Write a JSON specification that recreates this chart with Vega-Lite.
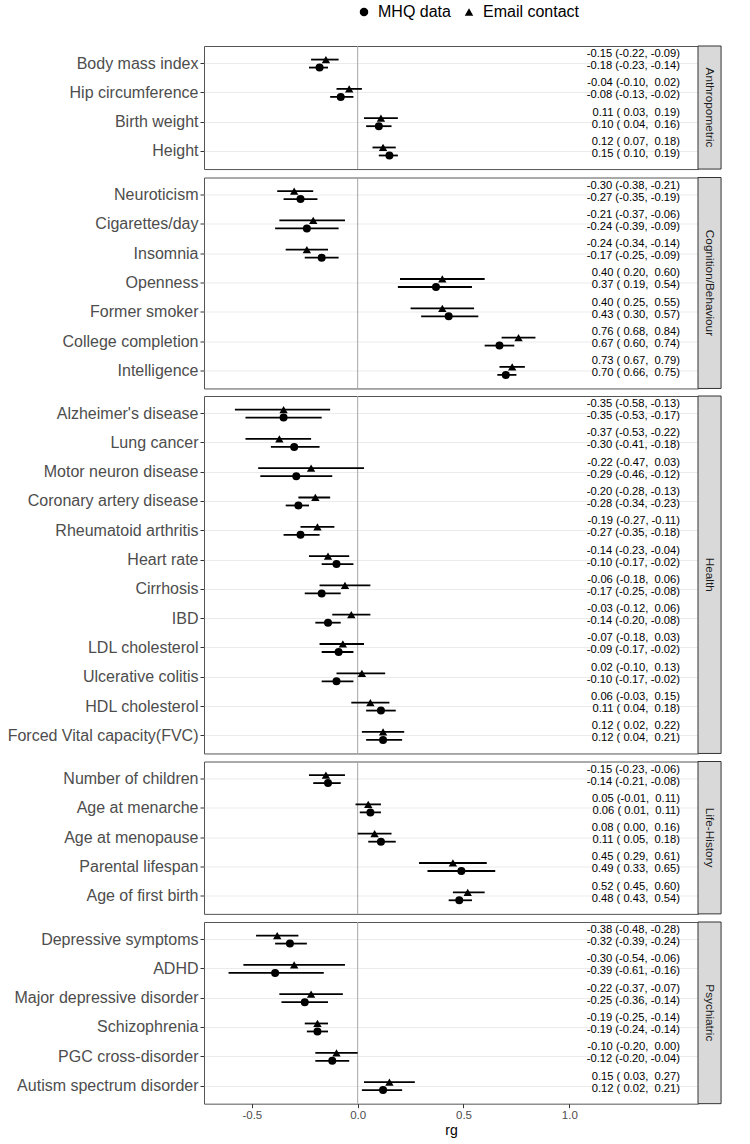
{
"$schema": "https://vega.github.io/schema/vega-lite/v6.json",
"background": "white",
"padding": {"left": 6, "top": 4, "right": 5, "bottom": 5},
"data": {"values": [
{"category":"Anthropometric","trait":"Body mass index","email_rg":-0.15,"email_lo":-0.22,"email_hi":-0.09,"email_label":"-0.15 (-0.22, -0.09)","mhq_rg":-0.18,"mhq_lo":-0.23,"mhq_hi":-0.14,"mhq_label":"-0.18 (-0.23, -0.14)"},
{"category":"Anthropometric","trait":"Hip circumference","email_rg":-0.04,"email_lo":-0.10,"email_hi":0.02,"email_label":"-0.04 (-0.10, \u00a00.02)","mhq_rg":-0.08,"mhq_lo":-0.13,"mhq_hi":-0.02,"mhq_label":"-0.08 (-0.13, -0.02)"},
{"category":"Anthropometric","trait":"Birth weight","email_rg":0.11,"email_lo":0.03,"email_hi":0.19,"email_label":"0.11 (\u00a00.03, \u00a00.19)","mhq_rg":0.10,"mhq_lo":0.04,"mhq_hi":0.16,"mhq_label":"0.10 (\u00a00.04, \u00a00.16)"},
{"category":"Anthropometric","trait":"Height","email_rg":0.12,"email_lo":0.07,"email_hi":0.18,"email_label":"0.12 (\u00a00.07, \u00a00.18)","mhq_rg":0.15,"mhq_lo":0.10,"mhq_hi":0.19,"mhq_label":"0.15 (\u00a00.10, \u00a00.19)"},
{"category":"Cognition/Behaviour","trait":"Neuroticism","email_rg":-0.30,"email_lo":-0.38,"email_hi":-0.21,"email_label":"-0.30 (-0.38, -0.21)","mhq_rg":-0.27,"mhq_lo":-0.35,"mhq_hi":-0.19,"mhq_label":"-0.27 (-0.35, -0.19)"},
{"category":"Cognition/Behaviour","trait":"Cigarettes/day","email_rg":-0.21,"email_lo":-0.37,"email_hi":-0.06,"email_label":"-0.21 (-0.37, -0.06)","mhq_rg":-0.24,"mhq_lo":-0.39,"mhq_hi":-0.09,"mhq_label":"-0.24 (-0.39, -0.09)"},
{"category":"Cognition/Behaviour","trait":"Insomnia","email_rg":-0.24,"email_lo":-0.34,"email_hi":-0.14,"email_label":"-0.24 (-0.34, -0.14)","mhq_rg":-0.17,"mhq_lo":-0.25,"mhq_hi":-0.09,"mhq_label":"-0.17 (-0.25, -0.09)"},
{"category":"Cognition/Behaviour","trait":"Openness","email_rg":0.40,"email_lo":0.20,"email_hi":0.60,"email_label":"0.40 (\u00a00.20, \u00a00.60)","mhq_rg":0.37,"mhq_lo":0.19,"mhq_hi":0.54,"mhq_label":"0.37 (\u00a00.19, \u00a00.54)"},
{"category":"Cognition/Behaviour","trait":"Former smoker","email_rg":0.40,"email_lo":0.25,"email_hi":0.55,"email_label":"0.40 (\u00a00.25, \u00a00.55)","mhq_rg":0.43,"mhq_lo":0.30,"mhq_hi":0.57,"mhq_label":"0.43 (\u00a00.30, \u00a00.57)"},
{"category":"Cognition/Behaviour","trait":"College completion","email_rg":0.76,"email_lo":0.68,"email_hi":0.84,"email_label":"0.76 (\u00a00.68, \u00a00.84)","mhq_rg":0.67,"mhq_lo":0.60,"mhq_hi":0.74,"mhq_label":"0.67 (\u00a00.60, \u00a00.74)"},
{"category":"Cognition/Behaviour","trait":"Intelligence","email_rg":0.73,"email_lo":0.67,"email_hi":0.79,"email_label":"0.73 (\u00a00.67, \u00a00.79)","mhq_rg":0.70,"mhq_lo":0.66,"mhq_hi":0.75,"mhq_label":"0.70 (\u00a00.66, \u00a00.75)"},
{"category":"Health","trait":"Alzheimer's disease","email_rg":-0.35,"email_lo":-0.58,"email_hi":-0.13,"email_label":"-0.35 (-0.58, -0.13)","mhq_rg":-0.35,"mhq_lo":-0.53,"mhq_hi":-0.17,"mhq_label":"-0.35 (-0.53, -0.17)"},
{"category":"Health","trait":"Lung cancer","email_rg":-0.37,"email_lo":-0.53,"email_hi":-0.22,"email_label":"-0.37 (-0.53, -0.22)","mhq_rg":-0.30,"mhq_lo":-0.41,"mhq_hi":-0.18,"mhq_label":"-0.30 (-0.41, -0.18)"},
{"category":"Health","trait":"Motor neuron disease","email_rg":-0.22,"email_lo":-0.47,"email_hi":0.03,"email_label":"-0.22 (-0.47, \u00a00.03)","mhq_rg":-0.29,"mhq_lo":-0.46,"mhq_hi":-0.12,"mhq_label":"-0.29 (-0.46, -0.12)"},
{"category":"Health","trait":"Coronary artery disease","email_rg":-0.20,"email_lo":-0.28,"email_hi":-0.13,"email_label":"-0.20 (-0.28, -0.13)","mhq_rg":-0.28,"mhq_lo":-0.34,"mhq_hi":-0.23,"mhq_label":"-0.28 (-0.34, -0.23)"},
{"category":"Health","trait":"Rheumatoid arthritis","email_rg":-0.19,"email_lo":-0.27,"email_hi":-0.11,"email_label":"-0.19 (-0.27, -0.11)","mhq_rg":-0.27,"mhq_lo":-0.35,"mhq_hi":-0.18,"mhq_label":"-0.27 (-0.35, -0.18)"},
{"category":"Health","trait":"Heart rate","email_rg":-0.14,"email_lo":-0.23,"email_hi":-0.04,"email_label":"-0.14 (-0.23, -0.04)","mhq_rg":-0.10,"mhq_lo":-0.17,"mhq_hi":-0.02,"mhq_label":"-0.10 (-0.17, -0.02)"},
{"category":"Health","trait":"Cirrhosis","email_rg":-0.06,"email_lo":-0.18,"email_hi":0.06,"email_label":"-0.06 (-0.18, \u00a00.06)","mhq_rg":-0.17,"mhq_lo":-0.25,"mhq_hi":-0.08,"mhq_label":"-0.17 (-0.25, -0.08)"},
{"category":"Health","trait":"IBD","email_rg":-0.03,"email_lo":-0.12,"email_hi":0.06,"email_label":"-0.03 (-0.12, \u00a00.06)","mhq_rg":-0.14,"mhq_lo":-0.20,"mhq_hi":-0.08,"mhq_label":"-0.14 (-0.20, -0.08)"},
{"category":"Health","trait":"LDL cholesterol","email_rg":-0.07,"email_lo":-0.18,"email_hi":0.03,"email_label":"-0.07 (-0.18, \u00a00.03)","mhq_rg":-0.09,"mhq_lo":-0.17,"mhq_hi":-0.02,"mhq_label":"-0.09 (-0.17, -0.02)"},
{"category":"Health","trait":"Ulcerative colitis","email_rg":0.02,"email_lo":-0.10,"email_hi":0.13,"email_label":"0.02 (-0.10, \u00a00.13)","mhq_rg":-0.10,"mhq_lo":-0.17,"mhq_hi":-0.02,"mhq_label":"-0.10 (-0.17, -0.02)"},
{"category":"Health","trait":"HDL cholesterol","email_rg":0.06,"email_lo":-0.03,"email_hi":0.15,"email_label":"0.06 (-0.03, \u00a00.15)","mhq_rg":0.11,"mhq_lo":0.04,"mhq_hi":0.18,"mhq_label":"0.11 (\u00a00.04, \u00a00.18)"},
{"category":"Health","trait":"Forced Vital capacity(FVC)","email_rg":0.12,"email_lo":0.02,"email_hi":0.22,"email_label":"0.12 (\u00a00.02, \u00a00.22)","mhq_rg":0.12,"mhq_lo":0.04,"mhq_hi":0.21,"mhq_label":"0.12 (\u00a00.04, \u00a00.21)"},
{"category":"Life-History","trait":"Number of children","email_rg":-0.15,"email_lo":-0.23,"email_hi":-0.06,"email_label":"-0.15 (-0.23, -0.06)","mhq_rg":-0.14,"mhq_lo":-0.21,"mhq_hi":-0.08,"mhq_label":"-0.14 (-0.21, -0.08)"},
{"category":"Life-History","trait":"Age at menarche","email_rg":0.05,"email_lo":-0.01,"email_hi":0.11,"email_label":"0.05 (-0.01, \u00a00.11)","mhq_rg":0.06,"mhq_lo":0.01,"mhq_hi":0.11,"mhq_label":"0.06 (\u00a00.01, \u00a00.11)"},
{"category":"Life-History","trait":"Age at menopause","email_rg":0.08,"email_lo":0.00,"email_hi":0.16,"email_label":"0.08 (\u00a00.00, \u00a00.16)","mhq_rg":0.11,"mhq_lo":0.05,"mhq_hi":0.18,"mhq_label":"0.11 (\u00a00.05, \u00a00.18)"},
{"category":"Life-History","trait":"Parental lifespan","email_rg":0.45,"email_lo":0.29,"email_hi":0.61,"email_label":"0.45 (\u00a00.29, \u00a00.61)","mhq_rg":0.49,"mhq_lo":0.33,"mhq_hi":0.65,"mhq_label":"0.49 (\u00a00.33, \u00a00.65)"},
{"category":"Life-History","trait":"Age of first birth","email_rg":0.52,"email_lo":0.45,"email_hi":0.60,"email_label":"0.52 (\u00a00.45, \u00a00.60)","mhq_rg":0.48,"mhq_lo":0.43,"mhq_hi":0.54,"mhq_label":"0.48 (\u00a00.43, \u00a00.54)"},
{"category":"Psychiatric","trait":"Depressive symptoms","email_rg":-0.38,"email_lo":-0.48,"email_hi":-0.28,"email_label":"-0.38 (-0.48, -0.28)","mhq_rg":-0.32,"mhq_lo":-0.39,"mhq_hi":-0.24,"mhq_label":"-0.32 (-0.39, -0.24)"},
{"category":"Psychiatric","trait":"ADHD","email_rg":-0.30,"email_lo":-0.54,"email_hi":-0.06,"email_label":"-0.30 (-0.54, -0.06)","mhq_rg":-0.39,"mhq_lo":-0.61,"mhq_hi":-0.16,"mhq_label":"-0.39 (-0.61, -0.16)"},
{"category":"Psychiatric","trait":"Major depressive disorder","email_rg":-0.22,"email_lo":-0.37,"email_hi":-0.07,"email_label":"-0.22 (-0.37, -0.07)","mhq_rg":-0.25,"mhq_lo":-0.36,"mhq_hi":-0.14,"mhq_label":"-0.25 (-0.36, -0.14)"},
{"category":"Psychiatric","trait":"Schizophrenia","email_rg":-0.19,"email_lo":-0.25,"email_hi":-0.14,"email_label":"-0.19 (-0.25, -0.14)","mhq_rg":-0.19,"mhq_lo":-0.24,"mhq_hi":-0.14,"mhq_label":"-0.19 (-0.24, -0.14)"},
{"category":"Psychiatric","trait":"PGC cross-disorder","email_rg":-0.10,"email_lo":-0.20,"email_hi":0.00,"email_label":"-0.10 (-0.20, \u00a00.00)","mhq_rg":-0.12,"mhq_lo":-0.20,"mhq_hi":-0.04,"mhq_label":"-0.12 (-0.20, -0.04)"},
{"category":"Psychiatric","trait":"Autism spectrum disorder","email_rg":0.15,"email_lo":0.03,"email_hi":0.27,"email_label":"0.15 (\u00a00.03, \u00a00.27)","mhq_rg":0.12,"mhq_lo":0.02,"mhq_hi":0.21,"mhq_label":"0.12 (\u00a00.02, \u00a00.21)"}
]},
"spacing": 5.5,
"resolve": {"scale": {"x": "independent", "y": "independent", "shape": "shared"}, "legend": {"shape": "shared"}},
"vconcat": [
{"width": 494, "height": 123.06, "transform": [{"filter": {"field": "category", "equal": "Anthropometric"}}],
 "layer": [
  {"transform": [{"aggregate": [{"op": "count", "as": "n"}], "groupby": ["category"]}], "mark": {"type": "rule", "color": "#A6A6A6", "strokeWidth": 1}, "encoding": {"x": {"datum": 0, "type": "quantitative", "axis": null, "scale": {"domain": [-0.726, 1.608], "nice": false, "zero": false}}}},
  {"transform": [{"aggregate": [{"op": "count", "as": "n"}], "groupby": ["category"]}], "mark": {"type": "rect", "fill": "#D9D9D9", "stroke": "#333333", "strokeWidth": 1}, "encoding": {"x": {"datum": 1.608, "type": "quantitative", "axis": null}, "x2": {"datum": 1.717}}},
  {"transform": [{"aggregate": [{"op": "count", "as": "n"}], "groupby": ["category"]}], "mark": {"type": "text", "angle": 90, "align": "center", "baseline": "middle", "fontSize": 11.8, "color": "#1A1A1A"}, "encoding": {"x": {"datum": 1.6625, "type": "quantitative", "axis": null}, "text": {"field": "category"}}},
  {"mark": {"type": "rule", "color": "black", "strokeWidth": 1.8, "yOffset": -4}, "encoding": {"y": {"field": "trait", "type": "nominal", "sort": null, "title": null, "scale": {"paddingInner": 0, "paddingOuter": 0.1}}, "x": {"field": "email_lo", "type": "quantitative", "axis": null}, "x2": {"field": "email_hi"}}},
  {"mark": {"type": "rule", "color": "black", "strokeWidth": 1.8, "yOffset": 4}, "encoding": {"y": {"field": "trait", "type": "nominal", "sort": null, "title": null}, "x": {"field": "mhq_lo", "type": "quantitative", "axis": null}, "x2": {"field": "mhq_hi"}}},
  {"mark": {"type": "point", "filled": true, "color": "black", "opacity": 1, "size": 70, "yOffset": -4}, "encoding": {"y": {"field": "trait", "type": "nominal", "sort": null, "title": null}, "x": {"field": "email_rg", "type": "quantitative", "axis": null}, "shape": {"datum": "Email contact", "type": "nominal", "scale": {"domain": ["MHQ data", "Email contact"], "range": ["circle", "triangle-up"]}, "legend": {"orient": "none", "legendX": 152, "legendY": -42, "direction": "horizontal", "columns": 2, "title": null, "labelFontSize": 16, "labelColor": "black", "symbolFillColor": "black", "symbolStrokeColor": "black", "symbolSize": 72, "labelOffset": 6, "columnPadding": 10}}}},
  {"mark": {"type": "point", "filled": true, "color": "black", "opacity": 1, "size": 64, "yOffset": 4}, "encoding": {"y": {"field": "trait", "type": "nominal", "sort": null, "title": null}, "x": {"field": "mhq_rg", "type": "quantitative", "axis": null}, "shape": {"datum": "MHQ data", "type": "nominal"}}},
  {"mark": {"type": "text", "align": "right", "baseline": "middle", "fontSize": 11.2, "color": "black", "yOffset": -9.5}, "encoding": {"y": {"field": "trait", "type": "nominal", "sort": null, "title": null}, "x": {"datum": 1.523, "type": "quantitative", "axis": null}, "text": {"field": "email_label"}}},
  {"mark": {"type": "text", "align": "right", "baseline": "middle", "fontSize": 11.2, "color": "black", "yOffset": 2.5}, "encoding": {"y": {"field": "trait", "type": "nominal", "sort": null, "title": null}, "x": {"datum": 1.523, "type": "quantitative", "axis": null}, "text": {"field": "mhq_label"}}}
 ]},
{"width": 494, "height": 210.96, "transform": [{"filter": {"field": "category", "equal": "Cognition/Behaviour"}}],
 "layer": [
  {"transform": [{"aggregate": [{"op": "count", "as": "n"}], "groupby": ["category"]}], "mark": {"type": "rule", "color": "#A6A6A6", "strokeWidth": 1}, "encoding": {"x": {"datum": 0, "type": "quantitative", "axis": null, "scale": {"domain": [-0.726, 1.608], "nice": false, "zero": false}}}},
  {"transform": [{"aggregate": [{"op": "count", "as": "n"}], "groupby": ["category"]}], "mark": {"type": "rect", "fill": "#D9D9D9", "stroke": "#333333", "strokeWidth": 1}, "encoding": {"x": {"datum": 1.608, "type": "quantitative", "axis": null}, "x2": {"datum": 1.717}}},
  {"transform": [{"aggregate": [{"op": "count", "as": "n"}], "groupby": ["category"]}], "mark": {"type": "text", "angle": 90, "align": "center", "baseline": "middle", "fontSize": 11.8, "color": "#1A1A1A"}, "encoding": {"x": {"datum": 1.6625, "type": "quantitative", "axis": null}, "text": {"field": "category"}}},
  {"mark": {"type": "rule", "color": "black", "strokeWidth": 1.8, "yOffset": -4}, "encoding": {"y": {"field": "trait", "type": "nominal", "sort": null, "title": null, "scale": {"paddingInner": 0, "paddingOuter": 0.1}}, "x": {"field": "email_lo", "type": "quantitative", "axis": null}, "x2": {"field": "email_hi"}}},
  {"mark": {"type": "rule", "color": "black", "strokeWidth": 1.8, "yOffset": 4}, "encoding": {"y": {"field": "trait", "type": "nominal", "sort": null, "title": null}, "x": {"field": "mhq_lo", "type": "quantitative", "axis": null}, "x2": {"field": "mhq_hi"}}},
  {"mark": {"type": "point", "filled": true, "color": "black", "opacity": 1, "size": 70, "yOffset": -4}, "encoding": {"y": {"field": "trait", "type": "nominal", "sort": null, "title": null}, "x": {"field": "email_rg", "type": "quantitative", "axis": null}, "shape": {"datum": "Email contact", "type": "nominal"}}},
  {"mark": {"type": "point", "filled": true, "color": "black", "opacity": 1, "size": 64, "yOffset": 4}, "encoding": {"y": {"field": "trait", "type": "nominal", "sort": null, "title": null}, "x": {"field": "mhq_rg", "type": "quantitative", "axis": null}, "shape": {"datum": "MHQ data", "type": "nominal"}}},
  {"mark": {"type": "text", "align": "right", "baseline": "middle", "fontSize": 11.2, "color": "black", "yOffset": -9.5}, "encoding": {"y": {"field": "trait", "type": "nominal", "sort": null, "title": null}, "x": {"datum": 1.523, "type": "quantitative", "axis": null}, "text": {"field": "email_label"}}},
  {"mark": {"type": "text", "align": "right", "baseline": "middle", "fontSize": 11.2, "color": "black", "yOffset": 2.5}, "encoding": {"y": {"field": "trait", "type": "nominal", "sort": null, "title": null}, "x": {"datum": 1.523, "type": "quantitative", "axis": null}, "text": {"field": "mhq_label"}}}
 ]},
{"width": 494, "height": 357.46, "transform": [{"filter": {"field": "category", "equal": "Health"}}],
 "layer": [
  {"transform": [{"aggregate": [{"op": "count", "as": "n"}], "groupby": ["category"]}], "mark": {"type": "rule", "color": "#A6A6A6", "strokeWidth": 1}, "encoding": {"x": {"datum": 0, "type": "quantitative", "axis": null, "scale": {"domain": [-0.726, 1.608], "nice": false, "zero": false}}}},
  {"transform": [{"aggregate": [{"op": "count", "as": "n"}], "groupby": ["category"]}], "mark": {"type": "rect", "fill": "#D9D9D9", "stroke": "#333333", "strokeWidth": 1}, "encoding": {"x": {"datum": 1.608, "type": "quantitative", "axis": null}, "x2": {"datum": 1.717}}},
  {"transform": [{"aggregate": [{"op": "count", "as": "n"}], "groupby": ["category"]}], "mark": {"type": "text", "angle": 90, "align": "center", "baseline": "middle", "fontSize": 11.8, "color": "#1A1A1A"}, "encoding": {"x": {"datum": 1.6625, "type": "quantitative", "axis": null}, "text": {"field": "category"}}},
  {"mark": {"type": "rule", "color": "black", "strokeWidth": 1.8, "yOffset": -4}, "encoding": {"y": {"field": "trait", "type": "nominal", "sort": null, "title": null, "scale": {"paddingInner": 0, "paddingOuter": 0.1}}, "x": {"field": "email_lo", "type": "quantitative", "axis": null}, "x2": {"field": "email_hi"}}},
  {"mark": {"type": "rule", "color": "black", "strokeWidth": 1.8, "yOffset": 4}, "encoding": {"y": {"field": "trait", "type": "nominal", "sort": null, "title": null}, "x": {"field": "mhq_lo", "type": "quantitative", "axis": null}, "x2": {"field": "mhq_hi"}}},
  {"mark": {"type": "point", "filled": true, "color": "black", "opacity": 1, "size": 70, "yOffset": -4}, "encoding": {"y": {"field": "trait", "type": "nominal", "sort": null, "title": null}, "x": {"field": "email_rg", "type": "quantitative", "axis": null}, "shape": {"datum": "Email contact", "type": "nominal"}}},
  {"mark": {"type": "point", "filled": true, "color": "black", "opacity": 1, "size": 64, "yOffset": 4}, "encoding": {"y": {"field": "trait", "type": "nominal", "sort": null, "title": null}, "x": {"field": "mhq_rg", "type": "quantitative", "axis": null}, "shape": {"datum": "MHQ data", "type": "nominal"}}},
  {"mark": {"type": "text", "align": "right", "baseline": "middle", "fontSize": 11.2, "color": "black", "yOffset": -9.5}, "encoding": {"y": {"field": "trait", "type": "nominal", "sort": null, "title": null}, "x": {"datum": 1.523, "type": "quantitative", "axis": null}, "text": {"field": "email_label"}}},
  {"mark": {"type": "text", "align": "right", "baseline": "middle", "fontSize": 11.2, "color": "black", "yOffset": 2.5}, "encoding": {"y": {"field": "trait", "type": "nominal", "sort": null, "title": null}, "x": {"datum": 1.523, "type": "quantitative", "axis": null}, "text": {"field": "mhq_label"}}}
 ]},
{"width": 494, "height": 152.36, "transform": [{"filter": {"field": "category", "equal": "Life-History"}}],
 "layer": [
  {"transform": [{"aggregate": [{"op": "count", "as": "n"}], "groupby": ["category"]}], "mark": {"type": "rule", "color": "#A6A6A6", "strokeWidth": 1}, "encoding": {"x": {"datum": 0, "type": "quantitative", "axis": null, "scale": {"domain": [-0.726, 1.608], "nice": false, "zero": false}}}},
  {"transform": [{"aggregate": [{"op": "count", "as": "n"}], "groupby": ["category"]}], "mark": {"type": "rect", "fill": "#D9D9D9", "stroke": "#333333", "strokeWidth": 1}, "encoding": {"x": {"datum": 1.608, "type": "quantitative", "axis": null}, "x2": {"datum": 1.717}}},
  {"transform": [{"aggregate": [{"op": "count", "as": "n"}], "groupby": ["category"]}], "mark": {"type": "text", "angle": 90, "align": "center", "baseline": "middle", "fontSize": 11.8, "color": "#1A1A1A"}, "encoding": {"x": {"datum": 1.6625, "type": "quantitative", "axis": null}, "text": {"field": "category"}}},
  {"mark": {"type": "rule", "color": "black", "strokeWidth": 1.8, "yOffset": -4}, "encoding": {"y": {"field": "trait", "type": "nominal", "sort": null, "title": null, "scale": {"paddingInner": 0, "paddingOuter": 0.1}}, "x": {"field": "email_lo", "type": "quantitative", "axis": null}, "x2": {"field": "email_hi"}}},
  {"mark": {"type": "rule", "color": "black", "strokeWidth": 1.8, "yOffset": 4}, "encoding": {"y": {"field": "trait", "type": "nominal", "sort": null, "title": null}, "x": {"field": "mhq_lo", "type": "quantitative", "axis": null}, "x2": {"field": "mhq_hi"}}},
  {"mark": {"type": "point", "filled": true, "color": "black", "opacity": 1, "size": 70, "yOffset": -4}, "encoding": {"y": {"field": "trait", "type": "nominal", "sort": null, "title": null}, "x": {"field": "email_rg", "type": "quantitative", "axis": null}, "shape": {"datum": "Email contact", "type": "nominal"}}},
  {"mark": {"type": "point", "filled": true, "color": "black", "opacity": 1, "size": 64, "yOffset": 4}, "encoding": {"y": {"field": "trait", "type": "nominal", "sort": null, "title": null}, "x": {"field": "mhq_rg", "type": "quantitative", "axis": null}, "shape": {"datum": "MHQ data", "type": "nominal"}}},
  {"mark": {"type": "text", "align": "right", "baseline": "middle", "fontSize": 11.2, "color": "black", "yOffset": -9.5}, "encoding": {"y": {"field": "trait", "type": "nominal", "sort": null, "title": null}, "x": {"datum": 1.523, "type": "quantitative", "axis": null}, "text": {"field": "email_label"}}},
  {"mark": {"type": "text", "align": "right", "baseline": "middle", "fontSize": 11.2, "color": "black", "yOffset": 2.5}, "encoding": {"y": {"field": "trait", "type": "nominal", "sort": null, "title": null}, "x": {"datum": 1.523, "type": "quantitative", "axis": null}, "text": {"field": "mhq_label"}}}
 ]},
{"width": 494, "height": 181.66, "transform": [{"filter": {"field": "category", "equal": "Psychiatric"}}],
 "layer": [
  {"transform": [{"aggregate": [{"op": "count", "as": "n"}], "groupby": ["category"]}], "mark": {"type": "rule", "color": "#A6A6A6", "strokeWidth": 1}, "encoding": {"x": {"datum": 0, "type": "quantitative", "title": "rg", "scale": {"domain": [-0.726, 1.608], "nice": false, "zero": false}, "axis": {"values": [-0.5, 0, 0.5, 1], "labelExpr": "replace(format(datum.value, '.1f'), '\u2212', '-')"}}}},
  {"transform": [{"aggregate": [{"op": "count", "as": "n"}], "groupby": ["category"]}], "mark": {"type": "rect", "fill": "#D9D9D9", "stroke": "#333333", "strokeWidth": 1}, "encoding": {"x": {"datum": 1.608, "type": "quantitative", "title": "rg"}, "x2": {"datum": 1.717}}},
  {"transform": [{"aggregate": [{"op": "count", "as": "n"}], "groupby": ["category"]}], "mark": {"type": "text", "angle": 90, "align": "center", "baseline": "middle", "fontSize": 11.8, "color": "#1A1A1A"}, "encoding": {"x": {"datum": 1.6625, "type": "quantitative", "title": "rg"}, "text": {"field": "category"}}},
  {"mark": {"type": "rule", "color": "black", "strokeWidth": 1.8, "yOffset": -4}, "encoding": {"y": {"field": "trait", "type": "nominal", "sort": null, "title": null, "scale": {"paddingInner": 0, "paddingOuter": 0.1}}, "x": {"field": "email_lo", "type": "quantitative", "title": "rg"}, "x2": {"field": "email_hi"}}},
  {"mark": {"type": "rule", "color": "black", "strokeWidth": 1.8, "yOffset": 4}, "encoding": {"y": {"field": "trait", "type": "nominal", "sort": null, "title": null}, "x": {"field": "mhq_lo", "type": "quantitative", "title": "rg"}, "x2": {"field": "mhq_hi"}}},
  {"mark": {"type": "point", "filled": true, "color": "black", "opacity": 1, "size": 70, "yOffset": -4}, "encoding": {"y": {"field": "trait", "type": "nominal", "sort": null, "title": null}, "x": {"field": "email_rg", "type": "quantitative", "title": "rg"}, "shape": {"datum": "Email contact", "type": "nominal"}}},
  {"mark": {"type": "point", "filled": true, "color": "black", "opacity": 1, "size": 64, "yOffset": 4}, "encoding": {"y": {"field": "trait", "type": "nominal", "sort": null, "title": null}, "x": {"field": "mhq_rg", "type": "quantitative", "title": "rg"}, "shape": {"datum": "MHQ data", "type": "nominal"}}},
  {"mark": {"type": "text", "align": "right", "baseline": "middle", "fontSize": 11.2, "color": "black", "yOffset": -9.5}, "encoding": {"y": {"field": "trait", "type": "nominal", "sort": null, "title": null}, "x": {"datum": 1.523, "type": "quantitative", "title": "rg"}, "text": {"field": "email_label"}}},
  {"mark": {"type": "text", "align": "right", "baseline": "middle", "fontSize": 11.2, "color": "black", "yOffset": 2.5}, "encoding": {"y": {"field": "trait", "type": "nominal", "sort": null, "title": null}, "x": {"datum": 1.523, "type": "quantitative", "title": "rg"}, "text": {"field": "mhq_label"}}}
 ]}
],
"config": {
  "font": "Liberation Sans",
  "view": {"stroke": "#555555", "strokeWidth": 1},
  "axisY": {"labelFontSize": 16, "labelColor": "#4D4D4D", "tickColor": "#333333", "tickSize": 4, "labelPadding": 2, "labelLimit": 0, "domain": false, "grid": true, "gridColor": "#EBEBEB", "gridWidth": 1, "bandPosition": 0.5, "labelFont": "Liberation Sans"},
  "axisX": {"labelFontSize": 11.5, "labelColor": "#4D4D4D", "tickColor": "#333333", "tickSize": 4, "labelPadding": 2, "domain": false, "grid": false, "titleFontSize": 14, "titleFontWeight": "normal", "titleColor": "black", "titlePadding": 2, "labelFont": "Liberation Sans", "titleFont": "Liberation Sans"},
  "legend": {"labelFont": "Liberation Sans"}
}
}
